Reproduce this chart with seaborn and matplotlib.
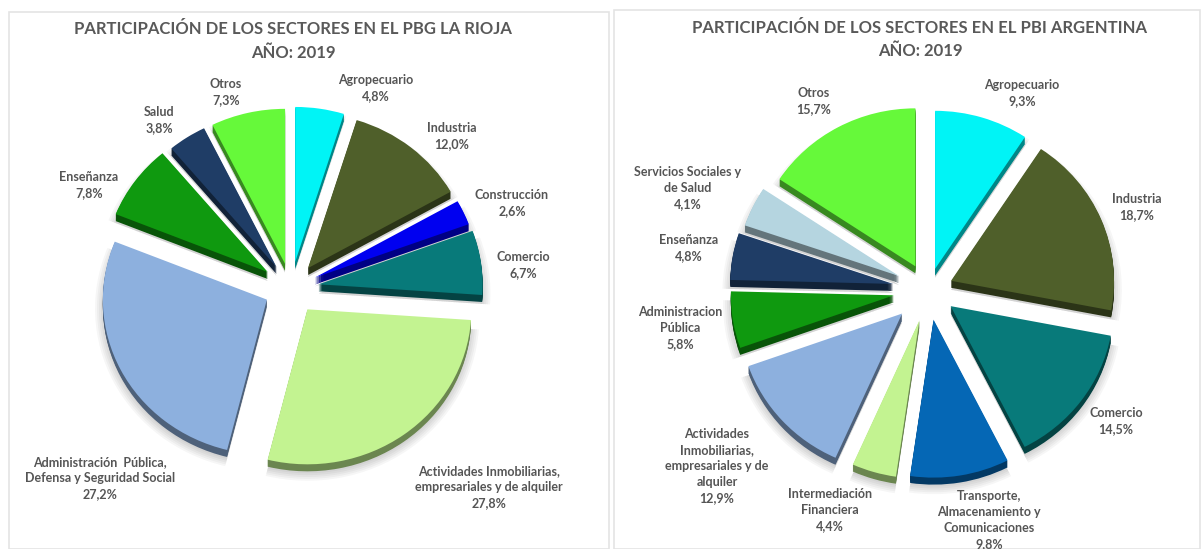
import matplotlib
matplotlib.use('Agg')
import matplotlib.pyplot as plt
from matplotlib.colors import to_rgb
from matplotlib.patches import Rectangle
import seaborn as sns

sns.set_theme(style="white")
plt.rcParams['font.family'] = ['Lato', 'DejaVu Sans']

W, H = 1202, 549

# la rioja
rioja_sectores = ['Agropecuario', 'Industria', 'Construcción', 'Comercio',
                  'Actividades Inmobiliarias,\nempresariales y de alquiler',
                  'Administración  Pública,\nDefensa y Seguridad Social',
                  'Enseñanza', 'Salud', 'Otros']
rioja_valores = [4.8, 12.0, 2.6, 6.7, 27.8, 27.2, 7.8, 3.8, 7.3]

# argentina
arg_sectores = ['Agropecuario', 'Industria', 'Comercio',
                'Transporte,\nAlmacenamiento y\nComunicaciones',
                'Intermediación\nFinanciera',
                'Actividades\nInmobiliarias,\nempresariales y de\nalquiler',
                'Administracion\nPública', 'Enseñanza',
                'Servicios Sociales y\nde Salud', 'Otros']
arg_valores = [9.3, 18.7, 14.5, 9.8, 4.4, 12.9, 5.8, 4.8, 4.1, 15.7]

# colores
CYAN, OLIVA, AZUL, TEAL = '#00F4F6', '#4F5F2A', '#0000F0', '#087A7A'
VERDE_CL, CELESTE, VERDE, NAVY = '#C3F391', '#8DB0DE', '#0F990F', '#1F3D66'
VIVO, AZUL2, PALIDO = '#66F93A', '#0567B5', '#B5D5E0'
rioja_colores = [CYAN, OLIVA, AZUL, TEAL, VERDE_CL, CELESTE, VERDE, NAVY, VIVO]
arg_colores = [CYAN, OLIVA, TEAL, AZUL2, VERDE_CL, CELESTE, VERDE, NAVY, PALIDO, VIVO]

rioja_explode = [0.17, 0.165, 0.16, 0.17, 0.17, 0.165, 0.175, 0.16, 0.16]
arg_explode = [0.14, 0.15, 0.17, 0.19, 0.20, 0.22, 0.215, 0.22, 0.20, 0.17]

rioja_pos = [(376, 88), (452, 136), (512, 203), (523, 265), (489, 487),
             (100, 478), (89, 185), (159, 120), (226, 92)]
arg_pos = [(1022, 93), (1137, 207), (1116, 421), (989, 520), (830, 510),
           (717, 466), (680, 328), (689, 248), (688, 188), (814, 101)]

fig = plt.figure(figsize=(W / 100, H / 100), dpi=100)


def draw_pie(valores, colores, explode, cx, cy, rx, ry, depth=7):
    # eje en pixeles para que la torta quede un poco eliptica
    ax = fig.add_axes([(cx - 1.6 * rx) / W, 1 - (cy + 1.6 * ry) / H,
                       3.2 * rx / W, 3.2 * ry / H])
    oscuros = [tuple(v * 0.55 for v in to_rgb(c)) for c in colores]
    # sombra difusa
    for k in range(5):
        ax.pie(valores, explode=explode, startangle=90, counterclock=False,
               colors=['#000000'] * len(valores), radius=1.0 + k * 0.012,
               center=(0, -(depth + 2) / ry),
               wedgeprops=dict(linewidth=0, alpha=0.035))
    # canto 3d
    for d in range(depth, 0, -1):
        ax.pie(valores, explode=explode, startangle=90, counterclock=False,
               colors=oscuros, center=(0, -d / ry), wedgeprops=dict(linewidth=0))
    ax.pie(valores, explode=explode, startangle=90, counterclock=False,
           colors=colores, wedgeprops=dict(linewidth=0))
    ax.set_aspect('auto')
    ax.set_xlim(-1.6, 1.6)
    ax.set_ylim(-1.6, 1.6)
    ax.patch.set_alpha(0)


def px_text(x, y, s, **kw):
    fig.text(x / W, 1 - y / H, s, ha='center', va='center', **kw)


def etiquetas(sectores, valores, pos):
    for s, v, (x, y) in zip(sectores, valores, pos):
        txt = s + '\n' + f'{v:.1f}%'.replace('.', ',')
        px_text(x, y, txt, fontsize=9, fontweight='bold', color='#555555', linespacing=1.4)


# marcos
fig.add_artist(Rectangle((8.5 / W, 0), 600 / W, 1 - 12 / H, transform=fig.transFigure,
                         fill=False, ec='#E4E4E4', lw=1.2))
fig.add_artist(Rectangle((614 / W, 0), 586 / W, 1 - 10 / H, transform=fig.transFigure,
                         fill=False, ec='#E4E4E4', lw=1.2))

draw_pie(rioja_valores, rioja_colores, rioja_explode, 291, 288, 164, 155)
draw_pie(arg_valores, arg_colores, arg_explode, 928.5, 290, 163, 158)

etiquetas(rioja_sectores, rioja_valores, rioja_pos)
etiquetas(arg_sectores, arg_valores, arg_pos)

tit = dict(fontsize=12, fontweight='bold', color='#595959')
px_text(293, 29, 'PARTICIPACIÓN DE LOS SECTORES EN EL PBG LA RIOJA', **tit)
px_text(293, 53, 'AÑO: 2019', **tit)
px_text(920, 28, 'PARTICIPACIÓN DE LOS SECTORES EN EL PBI ARGENTINA', **tit)
px_text(920, 51, 'AÑO: 2019', **tit)

plt.savefig('out.png', dpi=100)
